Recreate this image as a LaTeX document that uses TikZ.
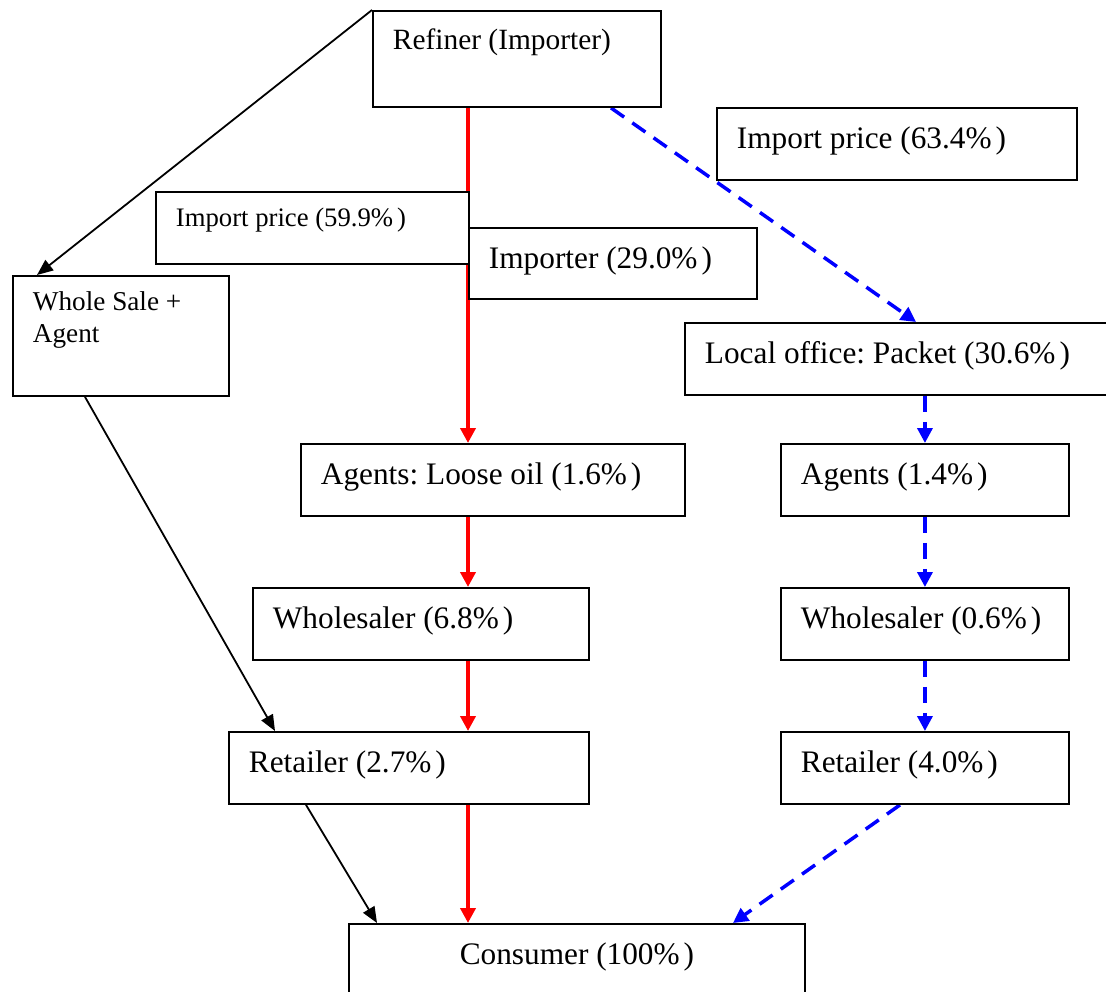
\documentclass[tikz,border=0pt]{standalone}
\usepackage{fontspec}
\setmainfont{Liberation Serif}
\usetikzlibrary{arrows.meta,backgrounds}
\frenchspacing
\newcommand\bxtext[4]{\parbox[c][#2][t]{#1}{\raggedright\leftskip=20pt\relax\rule{0pt}{#3}#4\par}}
\newcommand\pct{\%\kern4pt}
\begin{document}
\begin{tikzpicture}[x=1pt,y=-1pt,
  bx/.style={draw, line width=1.9pt, fill=white, inner sep=0pt, anchor=north west},
  big/.style={font=\fontsize{31.3}{36}\selectfont},
  mid/.style={font=\fontsize{29.4}{34}\selectfont},
  small/.style={font=\fontsize{26.7}{32}\selectfont},
  wsf/.style={font=\fontsize{27.2}{31.7}\selectfont},
  redarr/.style={draw=red, line width=4pt, -{Triangle[length=15pt,width=15pt]}},
  bluearr/.style={draw=blue, line width=3.5pt, dash pattern=on 16pt off 10pt, -{Triangle[length=15pt,width=15pt]}},
  blkarr/.style={draw=black, line width=1.8pt, -{Triangle[length=16pt,width=13pt]}}]
\useasboundingbox (0,0) rectangle (1106,991);
\node[bx,mid] (ref) at (372,10) {\bxtext{288pt}{96pt}{39pt}{Refiner (Importer)}};
\node[bx,big] (ip2) at (716,107) {\bxtext{360pt}{72pt}{40.5pt}{Import price (63.4\pct)}};
\node[bx,small] (ip1) at (155,191) {\bxtext{313pt}{72pt}{35pt}{Import price (59.9\pct)}};
\node[bx,big] (imp) at (468,227) {\bxtext{288pt}{71pt}{40.5pt}{Importer (29.0\pct)}};
\node[bx,wsf] (ws) at (12,275) {\bxtext{216pt}{120pt}{35pt}{Whole Sale +\\Agent}};
\node[bx,big] (lo) at (684,322) {\bxtext{428pt}{72pt}{40.5pt}{Local office: Packet (30.6\pct)}};
\node[bx,big] (ag1) at (300,443) {\bxtext{384pt}{72pt}{40.5pt}{Agents: Loose oil (1.6\pct)}};
\node[bx,big] (ag2) at (780,443) {\bxtext{288pt}{72pt}{40.5pt}{Agents (1.4\pct)}};
\node[bx,big] (wh1) at (252,587) {\bxtext{336pt}{72pt}{40.5pt}{Wholesaler (6.8\pct)}};
\node[bx,big] (wh2) at (780,587) {\bxtext{288pt}{72pt}{40.5pt}{Wholesaler (0.6\pct)}};
\node[bx,big] (rt1) at (228,731) {\bxtext{360pt}{72pt}{40.5pt}{Retailer (2.7\pct)}};
\node[bx,big] (rt2) at (780,731) {\bxtext{288pt}{72pt}{40.5pt}{Retailer (4.0\pct)}};
\node[bx,big] (con) at (348,923) {\parbox[c][80pt][t]{456pt}{\centering\rule{0pt}{40.5pt}Consumer (100\pct)\par}};
\coordinate (rx) at (468,0);
\begin{pgfonlayer}{background}
\draw[redarr] (ref.south -| rx) -- (ag1.north -| rx);
\draw[redarr] (ag1.south -| rx) -- (wh1.north -| rx);
\draw[redarr] (wh1.south -| rx) -- (rt1.north -| rx);
\draw[redarr] (rt1.south -| rx) -- (con.north -| rx);
\draw[bluearr] ([xshift=239pt]ref.south west) -- ([xshift=232pt]lo.north west);
\draw[bluearr] (lo.south -| ag2.north) -- (ag2.north);
\draw[bluearr] (ag2.south) -- (wh2.north);
\draw[bluearr] (wh2.south) -- (rt2.north);
\draw[bluearr] ([xshift=120pt]rt2.south west) -- ([xshift=385pt]con.north west);
\draw[blkarr] (ref.north west) -- ([xshift=25pt]ws.north west);
\draw[blkarr] ([xshift=73pt]ws.south west) -- ([xshift=47pt]rt1.north west);
\draw[blkarr] ([xshift=78pt]rt1.south west) -- ([xshift=29pt]con.north west);
\end{pgfonlayer}
\end{tikzpicture}
\end{document}
